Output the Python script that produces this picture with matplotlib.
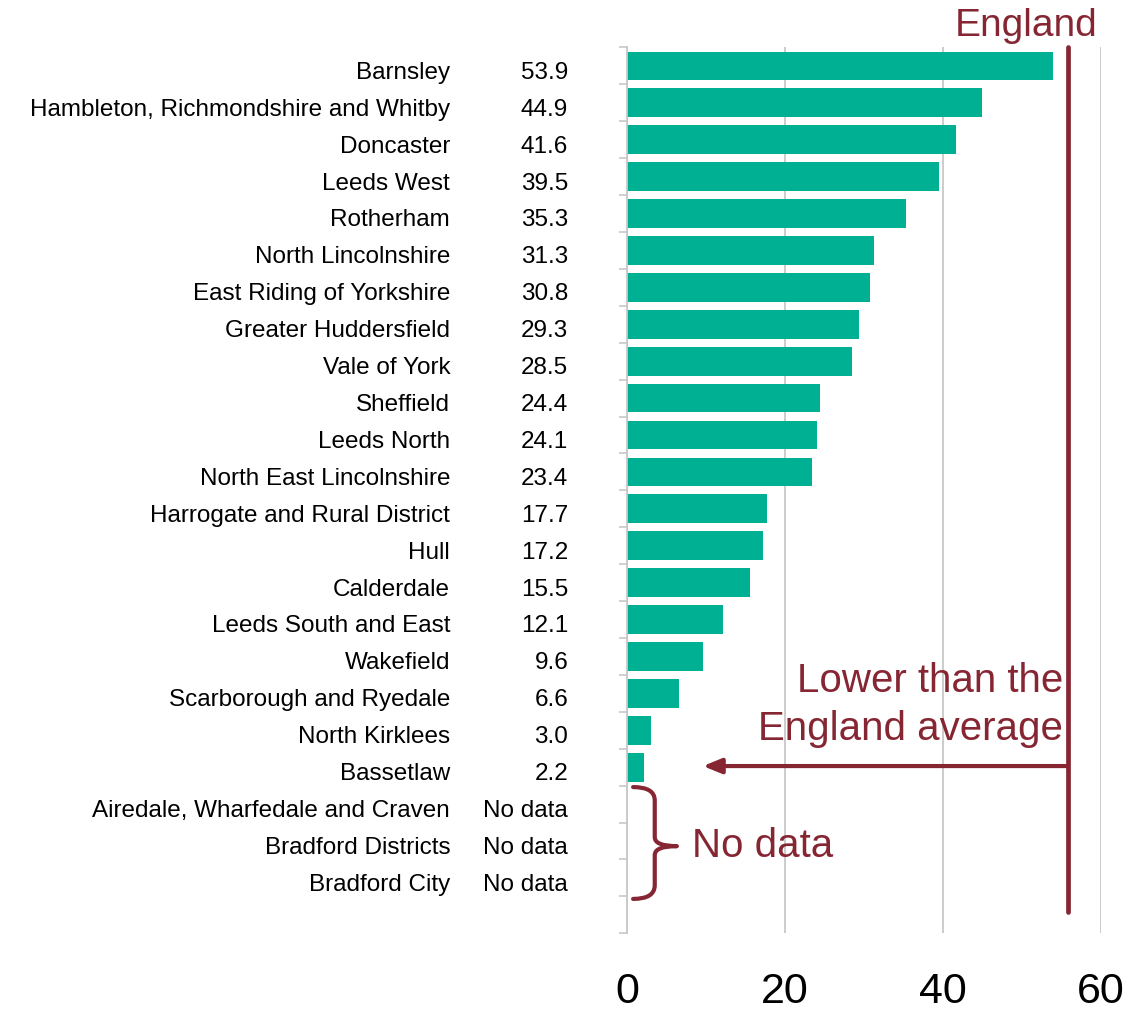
import numpy as np
import matplotlib.pyplot as plt
from matplotlib.path import Path
from matplotlib.patches import PathPatch
from matplotlib.transforms import blended_transform_factory

plt.rcParams['font.family'] = ['Liberation Sans', 'DejaVu Sans']

areas = ["Barnsley", "Hambleton, Richmondshire and Whitby", "Doncaster", "Leeds West",
         "Rotherham", "North Lincolnshire", "East Riding of Yorkshire",
         "Greater Huddersfield", "Vale of York", "Sheffield", "Leeds North",
         "North East Lincolnshire", "Harrogate and Rural District", "Hull",
         "Calderdale", "Leeds South and East", "Wakefield", "Scarborough and Ryedale",
         "North Kirklees", "Bassetlaw", "Airedale, Wharfedale and Craven",
         "Bradford Districts", "Bradford City"]
values = [53.9, 44.9, 41.6, 39.5, 35.3, 31.3, 30.8, 29.3, 28.5, 24.4, 24.1, 23.4,
          17.7, 17.2, 15.5, 12.1, 9.6, 6.6, 3.0, 2.2, None, None, None]
england_avg = 55.8
xticks = [0, 20, 40, 60]

green = "#00b092"
red = "#862633"

fig = plt.figure(figsize=(11.34, 10.10), dpi=100)
ax = fig.add_axes([0.553, 0.076, 0.418, 0.877])

y = np.arange(len(areas))
bar_vals = [v if v is not None else 0 for v in values]
ax.barh(y, bar_vals, height=0.78, color=green, zorder=2)

ax.set_xlim(0, 60)
ax.set_ylim(len(areas) + 0.5, -0.5)
ax.set_xticks(xticks)
ax.set_xticklabels([str(t) for t in xticks], fontsize=31)
ax.tick_params(axis='x', length=0, pad=28)
ax.set_yticks(np.arange(-0.5, len(areas) + 1, 1))
ax.set_yticklabels([])
ax.tick_params(axis='y', length=6, color="#c8c8c8", width=1.2)
ax.xaxis.grid(True, color="#c8c8c8", linewidth=1.3, zorder=0)
for s in ["top", "right", "bottom"]:
    ax.spines[s].set_visible(False)
ax.spines["left"].set_color("#c8c8c8")
ax.spines["left"].set_linewidth(1.3)

tr = blended_transform_factory(fig.transFigure, ax.transData)
for i, (name, v) in enumerate(zip(areas, values)):
    ax.text(0.397, i + 0.12, name, transform=tr, ha="right", va="center_baseline",
            fontsize=17.5)
    lab = f"{v:.1f}" if v is not None else "No data"
    ax.text(0.501, i + 0.12, lab, transform=tr, ha="right", va="center_baseline",
            fontsize=17.5)

# England average line
ax.plot([england_avg, england_avg], [-0.5, 22.93], color=red, linewidth=3.4,
        solid_capstyle="round", zorder=3, clip_on=False)
ax.text(59.6, -0.8, "England", color=red, fontsize=28, ha="right", va="baseline")

# arrow pointing to lower values
ax.annotate("", xy=(9.6, 18.97), xytext=(england_avg, 18.97),
            arrowprops=dict(arrowstyle="-|>,head_length=1.1,head_width=0.45",
                            color=red, lw=3, shrinkA=0, shrinkB=0), zorder=3)
ax.text(55.2, 18.27, "Lower than the\nEngland average", color=red, fontsize=29,
        ha="right", va="baseline", linespacing=1.35)

# bracket for the no-data rows
bx = 3.5
path = Path([(0.76, 19.54), (bx, 19.54), (bx, 19.9), (bx, 20.9), (bx, 21.14),
             (6.3, 21.14), (bx, 21.14), (bx, 21.38), (bx, 22.2), (bx, 22.57),
             (0.76, 22.57)],
            [Path.MOVETO, Path.CURVE3, Path.CURVE3, Path.LINETO, Path.CURVE3,
             Path.CURVE3, Path.CURVE3, Path.CURVE3, Path.LINETO, Path.CURVE3,
             Path.CURVE3])
ax.add_patch(PathPatch(path, fill=False, edgecolor=red, linewidth=3, zorder=3,
                       capstyle="round", joinstyle="round"))
ax.text(8.2, 21.14, "No data", color=red, fontsize=29, ha="left", va="center")

fig.savefig("out.png", dpi=100)
